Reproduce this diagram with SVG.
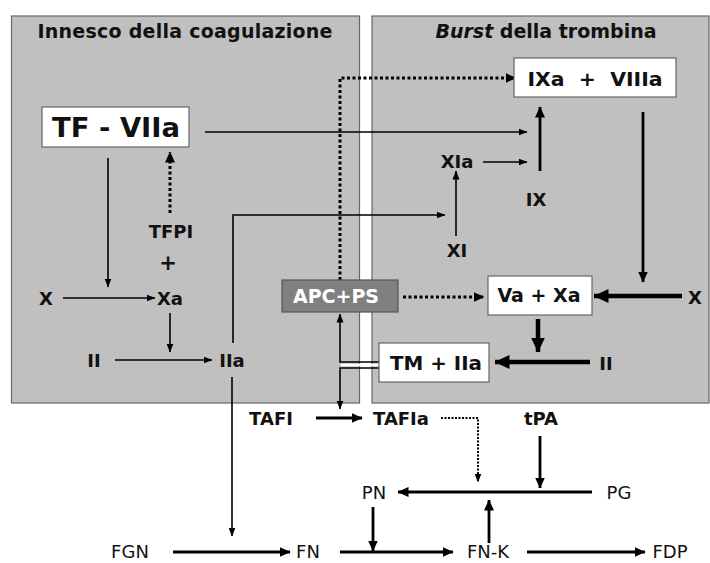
<svg xmlns="http://www.w3.org/2000/svg" width="710" height="563" viewBox="0 0 710 563">
<defs>
<style>
.pan{fill:#c0c0c0;stroke:#666;stroke-width:1.2}
.box{fill:#fff;stroke:#666;stroke-width:1.2}
.b{font-family:"DejaVu Sans",Verdana,sans-serif;font-weight:bold;fill:#111;text-anchor:middle;font-size:18px}
.r{font-family:"DejaVu Sans",Verdana,sans-serif;font-weight:normal;fill:#111;text-anchor:middle;font-size:18px}
.l1{stroke:#000;stroke-width:1.6;fill:none}
.l2{stroke:#000;stroke-width:2.8;fill:none}
.l3{stroke:#000;stroke-width:4.5;fill:none}
.d1{stroke:#000;stroke-width:3;stroke-dasharray:3 2.5;fill:none}
.d2{stroke:#000;stroke-width:2;stroke-dasharray:2 1.5;fill:none}
</style>
<marker id="m1" markerUnits="userSpaceOnUse" markerWidth="9" markerHeight="8" refX="8.5" refY="4" orient="auto"><path d="M0,0.5 L9,4 L0,7.5 z" fill="#000"/></marker>
<marker id="m2" markerUnits="userSpaceOnUse" markerWidth="11" markerHeight="10" refX="10.5" refY="5" orient="auto"><path d="M0,0 L11,5 L0,10 z" fill="#000"/></marker>
<marker id="m3" markerUnits="userSpaceOnUse" markerWidth="15" markerHeight="14" refX="14.5" refY="7" orient="auto"><path d="M0,0 L15,7 L0,14 z" fill="#000"/></marker>
</defs>
<rect width="710" height="563" fill="#fff"/>
<g id="panel-left"><rect class="pan" x="11.5" y="16" width="348" height="387"/>
<text class="b" x="185" y="38" style="font-size:19px" textLength="295">Innesco della coagulazione</text></g>
<g id="panel-right"><rect class="pan" x="372" y="16" width="337" height="387"/>
<text class="b" x="546" y="38" style="font-size:19px" textLength="221"><tspan font-style="italic">Burst</tspan> della trombina</text></g>

<g id="connectors">
<path class="l1" d="M205,132 H527" marker-end="url(#m1)"/>
<path class="d1" d="M340,280 V78 H516" marker-end="url(#m2)"/>
<path class="l2" d="M540,171 V107" marker-end="url(#m2)"/>
<path class="l1" d="M483,162 H527" stroke-width="2" marker-end="url(#m1)"/>
<path class="l1" d="M456,236 V171" marker-end="url(#m1)"/>
<path class="l1" d="M233,343 V215 H445" marker-end="url(#m1)"/>
<path class="l1" d="M108,158 V287" marker-end="url(#m1)"/>
<path class="d1" d="M170,213 V152" marker-end="url(#m2)"/>
<path class="l1" d="M63,298 H155" marker-end="url(#m1)"/>
<path class="l1" d="M170,313 V352" marker-end="url(#m1)"/>
<path class="l1" d="M115,360 H212" marker-end="url(#m1)"/>
<path class="l1" d="M232,377 V536" stroke-width="2" marker-end="url(#m1)"/>
<path class="d1" d="M403,297 H484" marker-end="url(#m2)"/>
<path class="l2" d="M643,112 V282" stroke-width="3.2" marker-end="url(#m2)"/>
<path class="l3" d="M682,296 H594" marker-end="url(#m3)"/>
<path class="l3" d="M538,319 V352" marker-end="url(#m3)"/>
<path class="l3" d="M590,362 H495" marker-end="url(#m3)"/>
<path d="M341,365 H379" stroke="#fff" stroke-width="2.5"/>
<path class="l1" d="M379,362 H340 V314" stroke-width="2" marker-end="url(#m1)"/>
<path class="l1" d="M379,368 H340 V409" stroke-width="2" marker-end="url(#m1)"/>
<path class="l2" d="M316,418 H362" marker-end="url(#m2)"/>
<path class="d2" d="M441,418 H478 V482" marker-end="url(#m1)"/>
<path class="l2" d="M540,436 V488" marker-end="url(#m2)"/>
<path class="l2" d="M592,492 H398" marker-end="url(#m2)"/>
<path class="l2" d="M489,543 V500" marker-end="url(#m2)"/>
<path class="l2" d="M373,507 V551" marker-end="url(#m2)"/>
<path class="l2" d="M173,552 H290" marker-end="url(#m2)"/>
<path class="l2" d="M340,552 H453" marker-end="url(#m2)"/>
<path class="l2" d="M527,552 H645" marker-end="url(#m2)"/>
</g>

<g id="tf-viia"><rect class="box" x="42" y="107" width="147" height="40"/><text class="b" x="116" y="137" style="font-size:27px" textLength="128" lengthAdjust="spacingAndGlyphs">TF - VIIa</text></g>
<g id="ixa-viiia"><rect class="box" x="514" y="58" width="162" height="39"/><text class="b" x="595" y="86" style="font-size:19px" xml:space="preserve" textLength="135" lengthAdjust="spacingAndGlyphs">IXa  +  VIIIa</text></g>
<g id="xia"><text class="b" x="457" y="168">XIa</text></g>
<g id="ix"><text class="b" x="536" y="206">IX</text></g>
<g id="xi"><text class="b" x="457" y="257">XI</text></g>
<g id="tfpi"><text class="b" x="171" y="238">TFPI</text><text class="b" x="168" y="270" style="font-size:21px">+</text></g>
<g id="x-left"><text class="b" x="46" y="305">X</text></g>
<g id="xa"><text class="b" x="170" y="305">Xa</text></g>
<g id="ii-left"><text class="b" x="94" y="367">II</text></g>
<g id="iia"><text class="b" x="232" y="367">IIa</text></g>
<g id="apc-ps"><rect x="282" y="280" width="116" height="32" fill="#808080" stroke="#555" stroke-width="1.2"/><text class="b" x="336" y="303" style="fill:#fff;font-size:19px">APC+PS</text></g>
<g id="va-xa"><rect class="box" x="488" y="276" width="104" height="39"/><text class="b" x="539" y="302" style="font-size:19px">Va + Xa</text></g>
<g id="x-right"><text class="b" x="695" y="304">X</text></g>
<g id="tm-iia"><rect class="box" x="379" y="343" width="110" height="39"/><text class="b" x="436" y="370" style="font-size:19px" textLength="92" lengthAdjust="spacingAndGlyphs">TM + IIa</text></g>
<g id="ii-right"><text class="b" x="606" y="370">II</text></g>
<g id="tafi"><text class="b" x="271" y="425">TAFI</text></g>
<g id="tafia"><text class="b" x="401" y="425">TAFIa</text></g>
<g id="tpa"><text class="b" x="541" y="425">tPA</text></g>
<g id="pn"><text class="r" x="374" y="499">PN</text></g>
<g id="pg"><text class="r" x="619" y="499">PG</text></g>
<g id="fgn"><text class="r" x="130" y="558">FGN</text></g>
<g id="fn"><text class="r" x="308" y="558">FN</text></g>
<g id="fn-k"><text class="r" x="488" y="558">FN-K</text></g>
<g id="fdp"><text class="r" x="670" y="558">FDP</text></g>
</svg>
